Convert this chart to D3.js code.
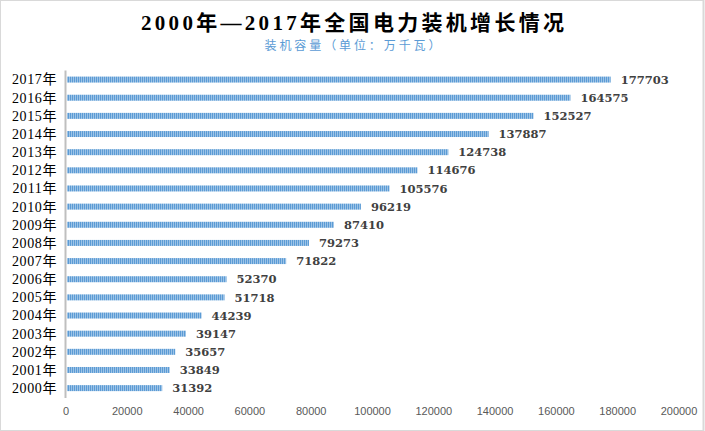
<!DOCTYPE html>
<html><head><meta charset="utf-8">
<script src="https://cdn.jsdelivr.net/npm/d3@7"></script>
<style>
html,body{margin:0;padding:0;background:#fff;}
svg{display:block;}
</style></head>
<body>
<svg id="c" width="705" height="431"></svg>
<script>
const years = ["2000年","2001年","2002年","2003年","2004年","2005年","2006年","2007年","2008年","2009年","2010年","2011年","2012年","2013年","2014年","2015年","2016年","2017年"];
const capacity = [31392,33849,35657,39147,44239,51718,52370,71822,79273,87410,96219,105576,114676,124738,137887,152527,164575,177703];
const xTicks = [0,20000,40000,60000,80000,100000,120000,140000,160000,180000,200000];
const titleText = "2000年—2017年全国电力装机增长情况";
const subtitleText = "装机容量（单位：万千瓦）";

const svg = d3.select("#c");
const W = 705, H = 431;

const defs = svg.append("defs");
const pat = defs.append("pattern").attr("id","stripe").attr("patternUnits","userSpaceOnUse")
  .attr("width",2).attr("height",10);
pat.append("rect").attr("width",2).attr("height",10).attr("fill","#9dc3e6");
pat.append("rect").attr("width",1).attr("height",10).attr("fill","#5b9bd5");

svg.append("rect").attr("x",0.5).attr("y",0.5).attr("width",W-2).attr("height",H-1)
  .attr("fill","#fff").attr("stroke","#d9d9d9").attr("stroke-width",1);
svg.append("line").attr("x1",W-1.5).attr("x2",W-1.5).attr("y1",0).attr("y2",H).attr("stroke","#d9d9d9").attr("stroke-width",2);

const x = d3.scaleLinear().domain([0,200000]).range([66,679]);
const y = d3.scaleBand().domain(years.slice().reverse()).range([70.5,397.2]).paddingInner(0.67).paddingOuter(0.335);

// title
svg.append("text").attr("x",W/2).attr("y",30).attr("text-anchor","middle")
  .attr("font-family","'Liberation Serif','Noto Sans CJK SC',serif").attr("font-weight","bold")
  .attr("font-size",21).attr("fill","#000")
  .attr("textLength",423).attr("lengthAdjust","spacing")
  .text(titleText);
svg.append("text").attr("x",W/2).attr("y",50).attr("text-anchor","middle")
  .attr("font-family","'Noto Sans CJK SC',sans-serif")
  .attr("font-size",12).attr("fill","#5b9bd5")
  .attr("textLength",176).attr("lengthAdjust","spacing")
  .text(subtitleText);

// bars
svg.append("g").selectAll("rect").data(years).join("rect")
  .attr("x",x(0)+1).attr("y",d=>y(d))
  .attr("width",(d,i)=>x(capacity[i])-x(0)-1)
  .attr("height",y.bandwidth())
  .attr("fill","url(#stripe)");

// axis line
svg.append("line").attr("x1",65.5).attr("x2",65.5).attr("y1",70.5).attr("y2",398)
  .attr("stroke","#bfbfbf").attr("stroke-width",2);

// y labels
svg.append("g").selectAll("text").data(years).join("text")
  .attr("x",57).attr("y",d=>y(d)+y.bandwidth()/2).attr("dy","0.35em")
  .attr("text-anchor","end")
  .attr("font-family","'Liberation Serif','Noto Sans CJK SC',serif")
  .attr("font-size",14).attr("letter-spacing",0.6).attr("fill","#000")
  .text(d=>d);

// value labels
svg.append("g").selectAll("text").data(years).join("text")
  .attr("x",(d,i)=>x(capacity[i])+10).attr("y",d=>y(d)+y.bandwidth()/2).attr("dy","0.36em")
  .attr("font-family","'DejaVu Serif',serif").attr("font-weight","bold")
  .attr("font-size",11.5).attr("fill","#404040")
  .text((d,i)=>capacity[i]);

// x tick labels
svg.append("g").selectAll("text").data(xTicks).join("text")
  .attr("x",d=>x(d)).attr("y",415).attr("text-anchor","middle")
  .attr("font-family","'Liberation Sans','DejaVu Sans',sans-serif")
  .attr("font-size",11).attr("fill","#595959")
  .text(d=>d);
</script>
</body></html>
